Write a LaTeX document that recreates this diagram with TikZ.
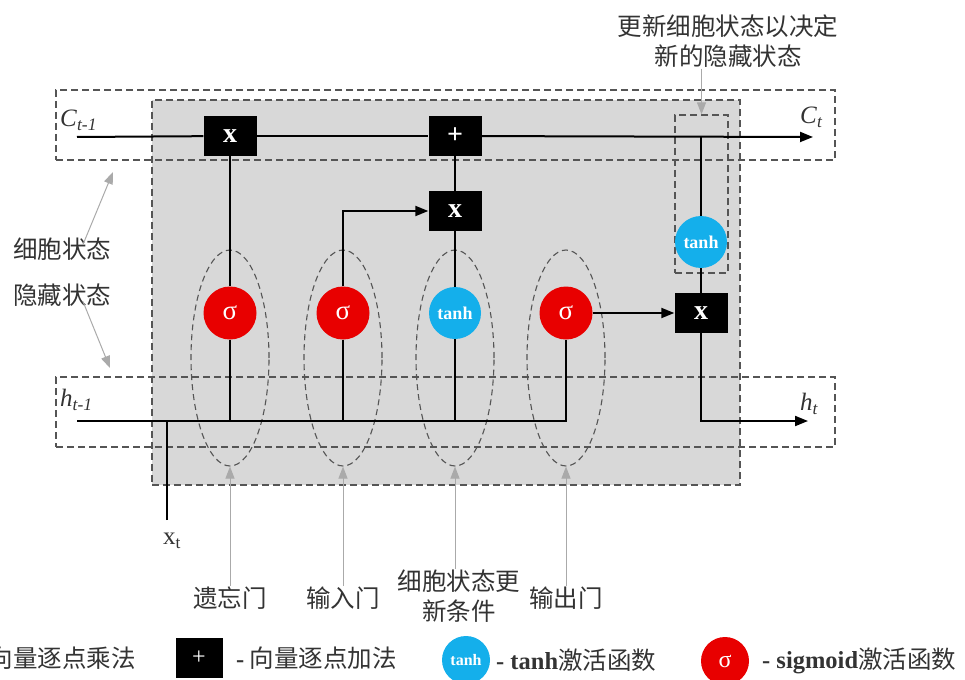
\documentclass[tikz,border=0pt]{standalone}
\usepackage{fontspec}
\setmainfont{Liberation Serif}
\newfontfamily\cjk{Noto Sans CJK SC}
\usetikzlibrary{shapes.geometric,arrows.meta,calc,backgrounds}
\definecolor{sigred}{RGB}{232,0,0}
\definecolor{tanhblue}{RGB}{20,175,235}
\definecolor{cellgray}{RGB}{216,216,216}
\definecolor{dashgray}{RGB}{85,85,85}
\definecolor{notegray}{RGB}{170,170,170}
\tikzset{
  oper/.style={
    rectangle, fill=black, text=white, minimum width=53pt,
    minimum height=40pt, inner sep=0pt,
    font=\fontsize{28}{30}\selectfont\bfseries},
  sigm/.style={
    circle, fill=sigred, text=white, minimum size=53pt, inner sep=0pt,
    font=\fontsize{27}{29}\selectfont},
  tanhn/.style={
    circle, fill=tanhblue, text=white, minimum size=52pt, inner sep=0pt,
    font=\fontsize{18}{20}\selectfont\bfseries},
  frame/.style={
    rectangle, draw=dashgray, line width=1.2pt,
    dash pattern=on 7pt off 4pt, inner sep=0pt},
  gate/.style={
    ellipse, draw=dashgray, line width=1.1pt,
    dash pattern=on 6pt off 4pt, minimum width=78pt,
    minimum height=216pt, inner sep=0pt},
  flow/.style={line width=2pt},
  flecha/.style={line width=2pt, -{Triangle[length=13pt,width=10pt]}},
  note/.style={line width=1pt, draw=notegray,
    -{Triangle[length=12pt,width=9pt]}, color=notegray},
  zh/.style={font=\cjk\fontsize{24.5}{30}\selectfont, text=black!80,
    align=center, inner sep=1pt},
  lat/.style={font=\fontsize{25}{27}\selectfont, text=black!80,
    inner sep=0pt}
}

\begin{document}
\begin{tikzpicture}[x=1pt, y=-1pt]
\useasboundingbox (0,0) rectangle (965,679);

% frames
\node[frame, fill=cellgray, minimum width=588pt, minimum height=385pt]
  (cell) at (446,292.5) {};
\node[frame, minimum width=779pt, minimum height=70pt] (cstate) at (445.5,125) {};
\node[frame, minimum width=779pt, minimum height=70pt] (hstate) at (445.5,412) {};
\node[frame, minimum width=53pt, minimum height=158pt] (tbox) at (701.5,194) {};

% gates
\node[gate] (gf) at (230,358) {};
\node[gate] (gi) at (343,358) {};
\node[gate] (gc) at (455,358) {};
\node[gate] (go) at (566,358) {};

% operations
\node[oper] (fmul) at (230,136) {x};
\node[oper] (add)  at (455,136) {+};
\node[oper] (imul) at (455,211) {x};
\node[oper] (omul) at (701,313) {x};
\node[sigm]  (sigf) at (230,313) {σ};
\node[sigm]  (sigi) at (343,313) {σ};
\node[tanhn] (tanhi) at (455,313) {tanh};
\node[sigm]  (sigo) at (566,313) {σ};
\node[tanhn] (tanhc) at (701,242) {tanh};

\coordinate (cin)  at (77,137);
\coordinate (cout) at (813,137);
\coordinate (hin)  at (77,421);
\coordinate (hout) at (808,421);
\coordinate (xin)  at (167,520);

% cell state
\draw[flow] (cin) -- (fmul);
\draw[flow] (fmul) -- (add);
\draw[flecha] (add) -- (cout);
\draw[flow] (fmul) -- (sigf);
\draw[flow] (add) -- (imul);
\draw[flow] (imul) -- (tanhi);
\draw[flecha] (sigi) |- (imul);
\draw[flecha] (sigo) -- (omul);
\draw[flow] (tanhc |- cin) -- (tanhc);
\draw[flow] (tanhc) -- (omul);
\draw[flecha] (omul) |- (hout);

% hidden state and input
\draw[flow] (hin) -| (sigo);
\draw[flow] (sigf) -- (sigf |- hin);
\draw[flow] (sigi) -- (sigi |- hin);
\draw[flow] (tanhi) -- (tanhi |- hin);
\draw[flow] (xin) -- (xin |- hin);

% state labels
\node[lat, anchor=west] (clast) at (60,120) {\textit{C}\textsubscript{\textit{t-1}}};
\node[lat, anchor=west] (cnext) at (800,117) {\textit{C}\textsubscript{\textit{t}}};
\node[lat, anchor=west] (hlast) at (60,400) {\textit{h}\textsubscript{\textit{t-1}}};
\node[lat, anchor=west] (hnext) at (800,404) {\textit{h}\textsubscript{\textit{t}}};
\node[lat] (xlab) at (172,541) {x\textsubscript{t}};

% notes
\node[zh] (lcell) at (62,249) {细胞状态};
\node[zh] (lhid)  at (62,295) {隐藏状态};
\coordinate (cmark) at (113,172);
\coordinate (hmark) at (110,368);
\draw[note] ([xshift=21pt,yshift=-8pt]lcell.north) -- (cmark);
\draw[note] ([xshift=21pt,yshift=6pt]lhid.south) -- (hmark);

\node[zh] (ltop) at (728,41) {更新细胞状态以决定\\新的隐藏状态};
\draw[note] (ltop.south -| tbox) -- (tbox.north);

\node[zh, anchor=north] (lf) at (230,586) {遗忘门};
\node[zh, anchor=north] (li) at (343,586) {输入门};
\node[zh, anchor=north] (lc) at (459,569) {细胞状态更\\新条件};
\node[zh, anchor=north] (lo) at (566,586) {输出门};
\draw[note] (lf.north) -- (gf.south);
\draw[note] (li.north) -- (gi.south);
\draw[note] (lc.north -| gc) -- (gc.south);
\draw[note] (lo.north) -- (go.south);

% legend
\node[zh, anchor=east] (kmul) at (137,658) {向量逐点乘法};
\node[oper, minimum width=47pt, font=\fontsize{24}{26}\selectfont] (kadd) at (199,658) {+};
\node[zh, anchor=west] (kaddt) at (235,658)
  {{\fontspec{Liberation Serif}\bfseries -} 向量逐点加法};
\node[tanhn, minimum size=48pt, font=\fontsize{16}{18}\selectfont\bfseries]
  (ktanh) at (466,660) {tanh};
\node[zh, anchor=west] (ktanht) at (495,660)
  {{\fontspec{Liberation Serif}\bfseries - tanh}激活函数};
\node[sigm, minimum size=48pt, font=\fontsize{24}{26}\selectfont]
  (ksig) at (725,661) {σ};
\node[zh, anchor=west] (ksigt) at (761,661)
  {{\fontspec{Liberation Serif}\bfseries - sigmoid}激活函数};

\end{tikzpicture}
\end{document}
